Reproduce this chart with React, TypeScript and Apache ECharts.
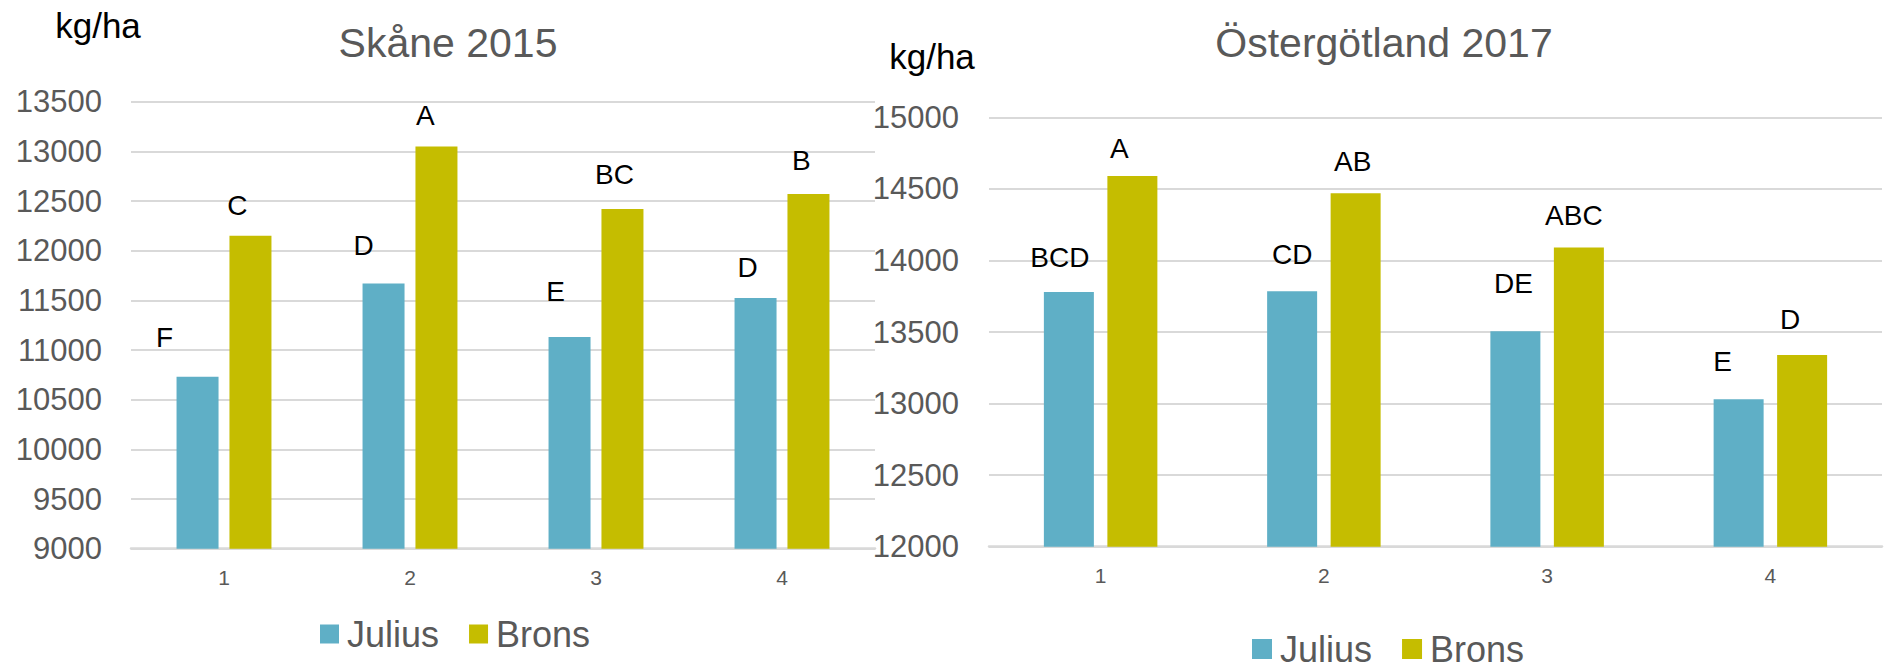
import React, { useEffect, useRef } from "react";
import * as echarts from "echarts";

const categories = ["1", "2", "3", "4"];
const skaneJulius = [10730, 11670, 11130, 11525];
const skaneBrons = [12150, 13050, 12420, 12570];
const skaneJuliusLetters = ["F", "D", "E", "D"];
const skaneBronsLetters = ["C", "A", "BC", "B"];
const ostJulius = [13780, 13785, 13505, 13030];
const ostBrons = [14590, 14470, 14090, 13340];
const ostJuliusLetters = ["BCD", "CD", "DE", "E"];
const ostBronsLetters = ["A", "AB", "ABC", "D"];
const seriesNames = ["Julius", "Brons"];
const titles = ["Skåne 2015", "Östergötland 2017"];
const unit = "kg/ha";

// label placement (styling only)
const skaneJuliusOff = [[-33, -25], [-20, -24], [-14, -32], [-8, -16]];
const skaneBronsOff = [[-13, -16], [-11, -17], [-8, -20], [-7, -20]];
const ostJuliusOff = [[-9, -20], [0, -23], [-2, -34], [-16, -24]];
const ostBronsOff = [[-13, -13], [-3, -18], [-5, -18], [-12, -21]];

const FONT = "'Liberation Sans', Arial, sans-serif";
const GRAY = "#595959";
const GRID = "#d9d9d9";
const C_JULIUS = "#5fafc6";
const C_BRONS = "#c5bd00";

function mkData(values: number[], letters: string[], offs: number[][]) {
  return values.map((v, i) => ({
    value: v,
    label: {
      show: true,
      position: "top",
      distance: 0,
      formatter: letters[i],
      offset: offs[i],
      fontSize: 28,
      color: "#000",
      fontFamily: FONT,
    },
  }));
}

export default function App() {
  const ref = useRef<HTMLDivElement>(null);
  useEffect(() => {
    document.body.style.margin = "0";
    const chart = echarts.init(ref.current!, undefined, { renderer: "svg" });
    const yAxisCommon = {
      type: "value",
      axisLine: { show: false },
      axisTick: { show: false },
      splitLine: { lineStyle: { color: GRID, width: 2 } },
      axisLabel: { fontSize: 31, color: GRAY, fontFamily: FONT, formatter: (v: number) => String(v) },
    };
    const xAxisCommon = {
      type: "category",
      data: categories,
      axisLine: { lineStyle: { color: GRID, width: 2.5 } },
      axisTick: { show: false },
      axisLabel: { fontSize: 21, color: GRAY, fontFamily: FONT, margin: 18 },
    };
    const legendCommon = {
      icon: "rect",
      itemGap: 30,
      data: seriesNames,
      textStyle: { fontSize: 36, lineHeight: 36, color: GRAY, fontFamily: FONT, padding: [0, 0, 0, 3] },
    };
    chart.setOption({
      animation: false,
      backgroundColor: "#fff",
      grid: [
        { left: 131, right: 1885 - 875, top: 101.7, bottom: 669 - 548.7 },
        { left: 989, right: 3, top: 117.3, bottom: 669 - 546.7 },
      ],
      xAxis: [
        { ...xAxisCommon, gridIndex: 0 },
        { ...xAxisCommon, gridIndex: 1 },
      ],
      yAxis: [
        { ...yAxisCommon, gridIndex: 0, min: 9000, max: 13500, interval: 500, axisLabel: { ...yAxisCommon.axisLabel, margin: 29 } },
        { ...yAxisCommon, gridIndex: 1, min: 12000, max: 15000, interval: 500, axisLabel: { ...yAxisCommon.axisLabel, margin: 30 } },
      ],
      legend: [
        { ...legendCommon, left: 320, top: 616, padding: 0, itemWidth: 19, itemHeight: 19 },
        { ...legendCommon, left: 1252, top: 631, padding: 0, itemWidth: 20, itemHeight: 20 },
      ],
      graphic: [
        { type: "text", x: 448, y: 43, style: { text: titles[0], fontSize: 41, fontFamily: FONT, fill: GRAY, align: "center", verticalAlign: "middle" } },
        { type: "text", x: 1384, y: 42.5, style: { text: titles[1], fontSize: 41, fontFamily: FONT, fill: GRAY, align: "center", verticalAlign: "middle" } },
        { type: "text", x: 98, y: 25.5, style: { text: unit, fontSize: 35, fontFamily: FONT, fill: "#000", align: "center", verticalAlign: "middle" } },
        { type: "text", x: 932, y: 56.5, style: { text: unit, fontSize: 35, fontFamily: FONT, fill: "#000", align: "center", verticalAlign: "middle" } },
      ],
      series: [
        { name: seriesNames[0], type: "bar", xAxisIndex: 0, yAxisIndex: 0, barWidth: 42, barGap: "26%", itemStyle: { color: C_JULIUS }, data: mkData(skaneJulius, skaneJuliusLetters, skaneJuliusOff) },
        { name: seriesNames[1], type: "bar", xAxisIndex: 0, yAxisIndex: 0, barWidth: 42, barGap: "26%", itemStyle: { color: C_BRONS }, data: mkData(skaneBrons, skaneBronsLetters, skaneBronsOff) },
        { name: seriesNames[0], type: "bar", xAxisIndex: 1, yAxisIndex: 1, barWidth: 50, barGap: "27%", itemStyle: { color: C_JULIUS }, data: mkData(ostJulius, ostJuliusLetters, ostJuliusOff) },
        { name: seriesNames[1], type: "bar", xAxisIndex: 1, yAxisIndex: 1, barWidth: 50, barGap: "27%", itemStyle: { color: C_BRONS }, data: mkData(ostBrons, ostBronsLetters, ostBronsOff) },
      ],
    });
    return () => chart.dispose();
  }, []);
  return <div ref={ref} style={{ width: 1885, height: 669 }} />;
}
